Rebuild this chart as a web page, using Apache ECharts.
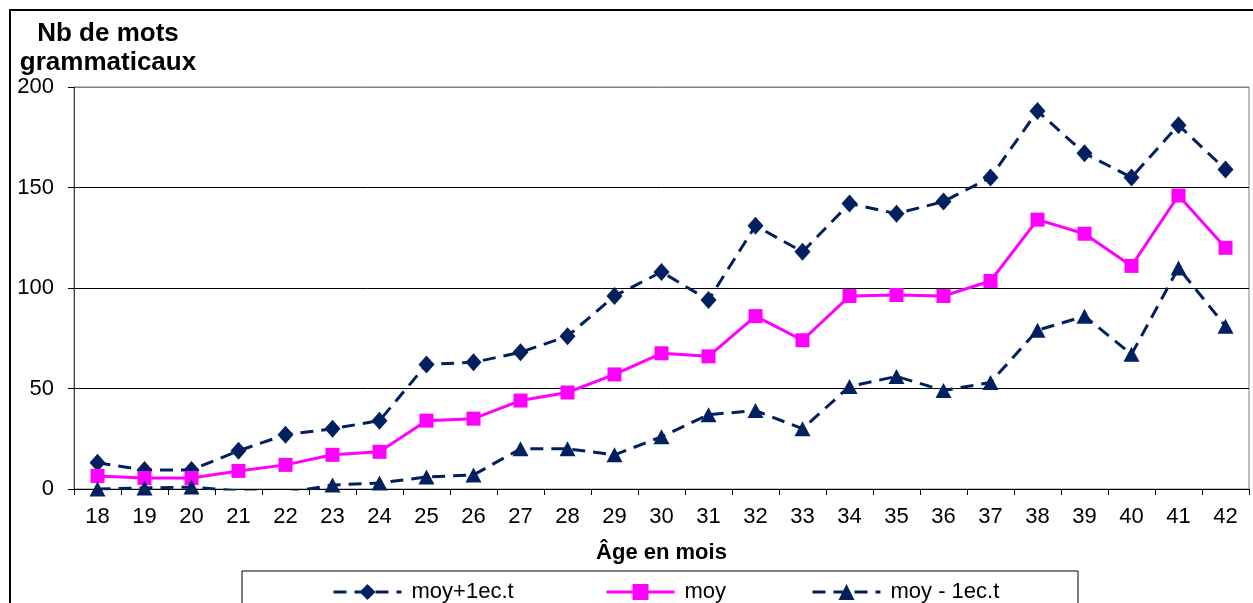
<!DOCTYPE html>
<html>
<head>
<meta charset="utf-8">
<script src="https://cdn.jsdelivr.net/npm/echarts@6/dist/echarts.min.js"></script>
<style>
  html, body { margin: 0; padding: 0; background: #fff; }
  #main { width: 1253px; height: 603px; }
</style>
</head>
<body>
<div id="main"></div>
<script>
var ages = ['18', '19', '20', '21', '22', '23', '24', '25', '26', '27', '28', '29', '30',
    '31', '32', '33', '34', '35', '36', '37', '38', '39', '40', '41', '42'];
var moyPlus = [13, 9.5, 9.5, 19, 27, 30, 34, 62, 63, 68, 76, 96, 108,
    94, 131, 118, 142, 137, 143, 155, 188, 167, 155, 181, 159];
var moy = [6.5, 5.5, 5.5, 9, 12, 17, 18.5, 34, 35, 44, 48, 57, 67.5,
    66, 86, 74, 96, 96.5, 96, 103.5, 134, 127, 111, 146, 120];
var moyMinus = [0, 0.5, 1, -1, -2, 2, 3, 6, 7, 20, 20, 17, 26,
    37, 39, 30, 51, 56, 49, 53, 79, 86, 67, 110, 81];
var seriesNames = ['moy+1ec.t', 'moy', 'moy - 1ec.t'];
var yTicks = [0, 50, 100, 150, 200];

var navy = '#00205f';
var pink = '#ff00ff';
var font = 'Liberation Sans, Arial, sans-serif';

var myChart = echarts.init(document.getElementById('main'));

// one legend per item so each can sit where the original has it
var legendLefts = [327, 600, 806];
var legends = seriesNames.map(function (name, i) {
    return {
        left: legendLefts[i], top: 576,
        itemWidth: 68, itemHeight: 20,
        lineStyle: { width: 3 },
        textStyle: { fontSize: 22, color: '#000', fontFamily: font, padding: [0, 0, 0, 5] },
        data: [name]
    };
});

var option = {
    animation: false,
    textStyle: { fontFamily: font, color: '#000' },
    grid: {
        left: 74, top: 87, right: 4, bottom: 114,
        show: true, borderColor: '#808080', borderWidth: 1
    },
    graphic: [
        // outer chart frame
        { type: 'rect', shape: { x: 10, y: 10, width: 1260, height: 620 },
          style: { fill: null, stroke: '#000', lineWidth: 2 }, z: 0 },
        // legend frame
        { type: 'rect', shape: { x: 242, y: 571, width: 836, height: 60 },
          style: { fill: null, stroke: '#000', lineWidth: 1 }, z: 1 },
        { type: 'text', x: 108, y: 19,
          style: { text: 'Nb de mots\ngrammaticaux', fill: '#000', font: 'bold 26px ' + font,
                   textAlign: 'center', lineHeight: 29 } }
    ],
    legend: legends,
    xAxis: {
        type: 'category',
        data: ages,
        boundaryGap: true,
        name: 'Âge en mois',
        nameLocation: 'middle',
        nameGap: 53,
        nameTextStyle: { fontSize: 22, fontWeight: 'bold', color: '#000' },
        axisLine: { lineStyle: { color: '#000', width: 1 } },
        axisTick: { show: true, length: 6, lineStyle: { color: '#000' } },
        axisLabel: { fontSize: 22, color: '#000', margin: 17 },
        splitLine: { show: false }
    },
    yAxis: {
        type: 'value',
        min: yTicks[0], max: yTicks[yTicks.length - 1], interval: 50,
        axisLine: { show: true, lineStyle: { color: '#404040', width: 1 } },
        axisTick: { show: true, length: 6, lineStyle: { color: '#000' } },
        axisLabel: { fontSize: 22, color: '#000', margin: 20 },
        splitLine: { show: true, lineStyle: { color: ['#000', '#000', '#000', '#000', '#808080'], width: 1 } }
    },
    series: [
        {
            name: seriesNames[0], type: 'line', data: moyPlus,
            symbol: 'diamond', symbolSize: [16, 18],
            itemStyle: { color: navy },
            lineStyle: { color: navy, width: 3, type: [13, 8] }
        },
        {
            name: seriesNames[1], type: 'line', data: moy,
            symbol: 'rect', symbolSize: 14,
            itemStyle: { color: pink },
            lineStyle: { color: pink, width: 3 }
        },
        {
            name: seriesNames[2], type: 'line', data: moyMinus,
            symbol: 'triangle', symbolSize: [16, 15],
            itemStyle: { color: navy },
            lineStyle: { color: navy, width: 3, type: [13, 8] }
        }
    ]
};

myChart.setOption(option);
</script>
</body>
</html>
